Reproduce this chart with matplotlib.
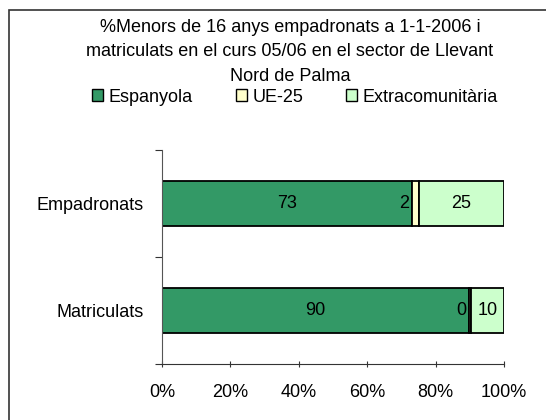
import numpy as np
import matplotlib.pyplot as plt
from matplotlib.patches import Rectangle, Patch

plt.rcParams['font.family'] = ['Liberation Sans', 'DejaVu Sans']

# Data
categories = ['Matriculats', 'Empadronats']
series = ['Espanyola', 'UE-25', 'Extracomunitària']
espanyola = [89.9, 73.1]
ue25 = [0.4, 1.9]
extracom = [9.7, 25.0]
colors = ['#339966', '#FFFFCC', '#CCFFCC']
xticks = [0, 20, 40, 60, 80, 100]

title = ('%Menors de 16 anys empadronats a 1-1-2006 i\n'
         'matriculats en el curs 05/06 en el sector de Llevant\n'
         'Nord de Palma')

FS = 13

fig = plt.figure(figsize=(5.46, 4.20), dpi=100)

# outer frame
fig.patches.append(Rectangle((9 / 546, -0.05), 1.0, 1 - 10 / 420 + 0.05,
                             transform=fig.transFigure, fill=False,
                             edgecolor='#333333', lw=1.2, zorder=0))

ax = fig.add_axes([162 / 546, 1 - 364 / 420, (504 - 162) / 546, (364 - 150) / 420])

y = np.arange(len(categories))
vals = [espanyola, ue25, extracom]
left = np.zeros(len(categories))
h = 0.42
for v, c, name in zip(vals, colors, series):
    v = np.array(v)
    ax.barh(y, v, left=left, height=h, color=c, edgecolor='black', lw=1.3, label=name)
    for yi, l, w in zip(y, left, v):
        if name == 'UE-25':
            ax.text(l - 0.8, yi, f'{w:.0f}', ha='right', va='center', fontsize=FS)
        else:
            ax.text(l + w / 2, yi, f'{w:.0f}', ha='center', va='center', fontsize=FS)
    left += v

ax.set_xlim(0, 100)
ax.set_ylim(-0.5, 1.5)
ax.set_xticks(xticks)
ax.set_xticklabels([f'{t}%' for t in xticks], fontsize=FS)
ax.set_yticks([-0.5, 0.5, 1.5], minor=False)
ax.set_yticklabels([])
ax.set_yticks(y, minor=True)
ax.set_yticklabels(categories, minor=True, fontsize=FS)
ax.tick_params(axis='y', which='minor', length=0, pad=13)
ax.tick_params(axis='y', which='major', length=5, direction='out', color='#333333')
ax.tick_params(axis='x', length=5, direction='inout', pad=12, color='#333333')
for s in ['top', 'right']:
    ax.spines[s].set_visible(False)
ax.spines['left'].set_color('#555555')
ax.spines['bottom'].set_color('#333333')

fig.text(290 / 546, 1 - 52 / 420, title, ha='center', va='center',
         fontsize=FS, linespacing=1.55)

handles = [Patch(facecolor=c, edgecolor='black', lw=1.0) for c in colors]
fig.legend(handles, series, loc='center', bbox_to_anchor=(295 / 546, 1 - 97 / 420),
           ncol=3, frameon=False, fontsize=FS, handlelength=0.6, handleheight=0.6,
           handletextpad=0.3, columnspacing=2.4)

fig.savefig('out.png', dpi=100)
